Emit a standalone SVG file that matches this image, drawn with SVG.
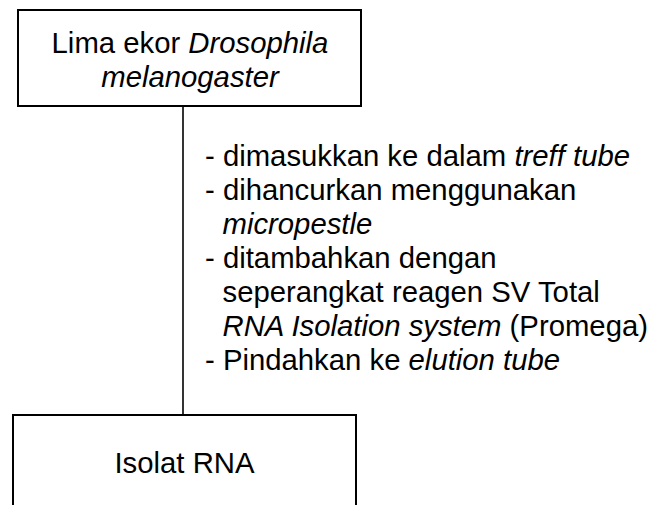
<svg xmlns="http://www.w3.org/2000/svg" width="657" height="505" viewBox="0 0 657 505">
<style>
text{font-family:"Liberation Sans",Arial,sans-serif;font-size:29.3px;fill:#000}
.box{fill:#fff;stroke:#000;stroke-width:2}
.i{font-style:italic}
.c{text-anchor:middle}
</style>
<rect width="657" height="505" fill="#fff"/>
<g id="connectors">
<line x1="183" y1="106" x2="183" y2="415" stroke="#000" stroke-width="1.6"/>
</g>
<g id="node-top">
<rect class="box" x="18" y="10" width="343" height="96"/>
<text class="c" x="190" y="53">Lima ekor <tspan class="i">Drosophila</tspan></text>
<text class="c i" x="190" y="87">melanogaster</text>
</g>
<g id="label">
<text x="205" y="165.5">- dimasukkan ke dalam <tspan class="i">treff tube</tspan></text>
<text x="205" y="199.5">- dihancurkan menggunakan</text>
<text class="i" x="222.5" y="233.5">micropestle</text>
<text x="205" y="267.5">- ditambahkan dengan</text>
<text x="222.5" y="301.5">seperangkat reagen SV Total</text>
<text x="222.5" y="335.5"><tspan class="i">RNA Isolation system</tspan> (Promega)</text>
<text x="205" y="369.5">- Pindahkan ke <tspan class="i">elution tube</tspan></text>
</g>
<g id="node-bottom">
<rect class="box" x="13" y="415" width="343" height="200"/>
<text class="c" x="184.5" y="473">Isolat RNA</text>
</g>
</svg>
